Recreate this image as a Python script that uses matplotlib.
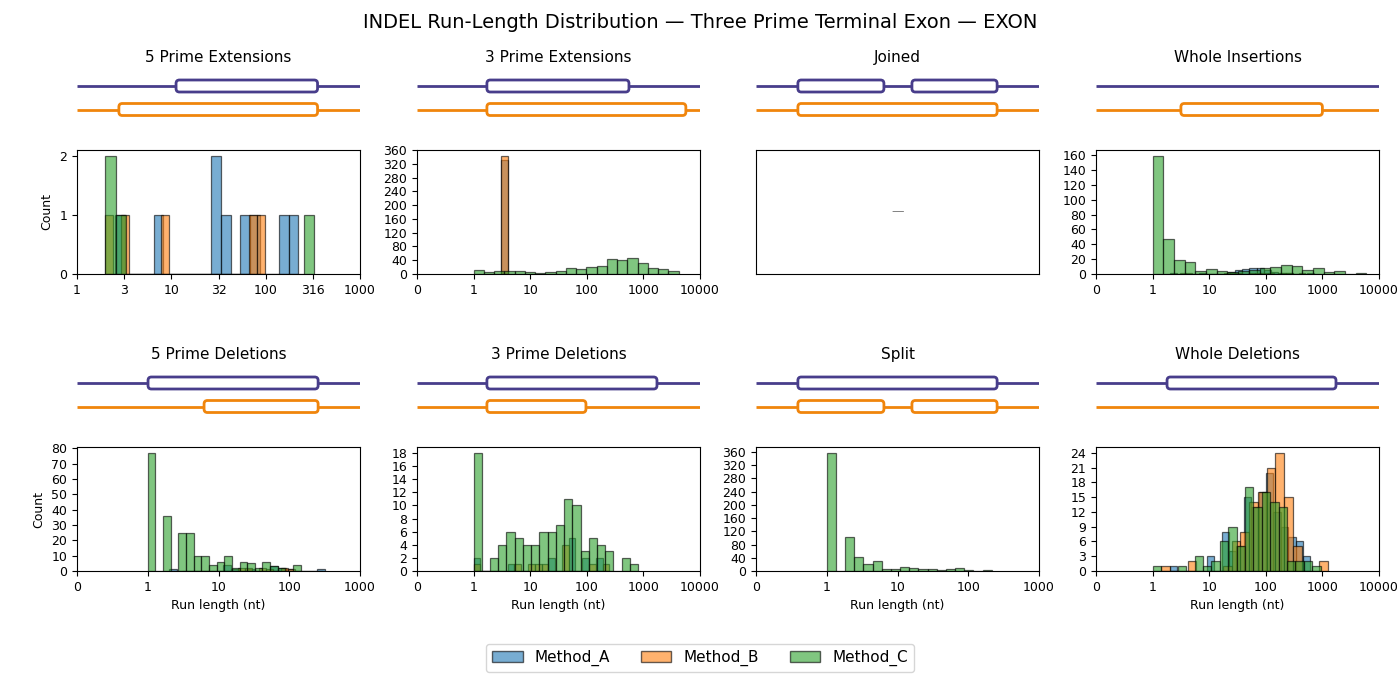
import numpy as np
import matplotlib
matplotlib.use("Agg")
import matplotlib.pyplot as plt
from matplotlib.patches import FancyBboxPatch, Patch
from matplotlib.ticker import MaxNLocator, FuncFormatter

methods = ["Method_A", "Method_B", "Method_C"]
method_colors = ["#1f77b4", "#ff7f0e", "#2ca02c"]

# binned counts per method; span = (min, max) run length in nt covered by the bins
ext5_a_span, ext5_a_counts = (2, 221), [0, 1, 0, 0, 0, 1, 0, 0, 0, 0, 0, 2, 1, 0, 1, 1, 0, 0, 1, 1]
ext5_b_span, ext5_b_counts = (2, 99), [1, 0, 1, 0, 0, 0, 0, 1, 0, 0, 0, 0, 0, 0, 0, 0, 0, 0, 1, 1]
ext5_c_span, ext5_c_counts = (2, 327), [2, 1, 0, 0, 0, 0, 0, 0, 0, 0, 0, 0, 0, 0, 0, 0, 0, 0, 0, 1]

ext3_a_span, ext3_a_counts = (3, 4), [331]
ext3_b_span, ext3_b_counts = (3, 4), [343]
ext3_c_span, ext3_c_counts = (1, 4200), [12, 6, 9, 9, 9, 6, 3, 6, 9, 17, 14, 20, 23, 43, 40, 46, 32, 17, 14, 9]

ins_a_span, ins_a_counts = (2, 725), [1, 0, 0, 0, 1, 0, 0, 0, 3, 5, 7, 8, 8, 6, 3, 2, 1, 0, 0, 1]
ins_b_span, ins_b_counts = (3, 500), [2, 1, 0, 0, 0, 0, 0, 1, 2, 1, 0, 2, 1, 2, 1, 0, 2, 1, 0, 1]
ins_c_span, ins_c_counts = (1, 6000), [159, 47, 19, 16, 4, 7, 4, 3, 4, 6, 8, 10, 12, 11, 6, 8, 3, 4, 0, 1]

del5_a_span, del5_a_counts = (2, 316), [1, 0, 0, 0, 0, 0, 0, 4, 1, 0, 1, 0, 0, 3, 2, 1, 0, 0, 0, 1]
del5_b_span, del5_b_counts = (3, 300), [0, 0, 0, 0, 0, 0, 0, 0, 2, 2, 0, 2, 1, 0, 2, 1, 0, 0, 0, 0]
del5_c_span, del5_c_counts = (1, 145), [77, 0, 36, 0, 25, 25, 10, 10, 4, 6, 10, 2, 6, 5, 2, 6, 3, 2, 0, 4]

del3_a_span, del3_a_counts = (1, 251), [2, 0, 0, 0, 0, 1, 0, 0, 0, 0, 0, 2, 0, 0, 5, 0, 2, 0, 2, 0]
del3_b_span, del3_b_counts = (1, 251), [1, 0, 0, 0, 0, 0, 1, 0, 1, 1, 1, 0, 0, 4, 0, 0, 0, 1, 0, 1]
del3_c_span, del3_c_counts = (1, 805), [18, 0, 2, 4, 6, 5, 4, 4, 6, 6, 7, 11, 10, 3, 5, 4, 3, 0, 2, 1]

split_c_span, split_c_counts = (1, 215), [357, 0, 103, 42, 21, 31, 6, 6, 12, 9, 6, 6, 3, 6, 9, 3, 0, 3]

wdel_a_span, wdel_a_counts = (2, 615), [1, 0, 0, 0, 0, 3, 0, 8, 4, 5, 15, 13, 16, 20, 12, 9, 7, 6, 3]
wdel_b_span, wdel_b_counts = (1, 1259), [0, 1, 0, 0, 2, 0, 0, 0, 1, 6, 8, 14, 16, 21, 24, 15, 5, 0, 0, 2]
wdel_c_span, wdel_c_counts = (1, 933), [1, 0, 0, 1, 0, 3, 1, 2, 6, 9, 5, 17, 13, 16, 14, 13, 2, 2, 2, 1]

panel_titles = ["5 Prime Extensions", "3 Prime Extensions", "Joined", "Whole Insertions",
                "5 Prime Deletions", "3 Prime Deletions", "Split", "Whole Deletions"]

panel_series = [
    [(ext5_a_span, ext5_a_counts), (ext5_b_span, ext5_b_counts), (ext5_c_span, ext5_c_counts)],
    [(ext3_a_span, ext3_a_counts), (ext3_b_span, ext3_b_counts), (ext3_c_span, ext3_c_counts)],
    None,
    [(ins_a_span, ins_a_counts), (ins_b_span, ins_b_counts), (ins_c_span, ins_c_counts)],
    [(del5_a_span, del5_a_counts), (del5_b_span, del5_b_counts), (del5_c_span, del5_c_counts)],
    [(del3_a_span, del3_a_counts), (del3_b_span, del3_b_counts), (del3_c_span, del3_c_counts)],
    [None, None, (split_c_span, split_c_counts)],
    [(wdel_a_span, wdel_a_counts), (wdel_b_span, wdel_b_counts), (wdel_c_span, wdel_c_counts)],
]

# x range of each histogram in log10(nt) and tick step
panel_xrange = [(0, 3, 0.5), (-1, 4, 1), None, (-1, 4, 1),
                (-1, 3, 1), (-1, 4, 1), (-1, 3, 1), (-1, 4, 1)]

# schematic: exon boxes on the reference track (top) and the transcript track (bottom)
schematic = [
    ([(0.35, 0.85)], [(0.148, 0.85)]),
    ([(0.247, 0.749)], [(0.247, 0.95)]),
    ([(0.148, 0.452), (0.551, 0.852)], [(0.148, 0.852)]),
    ([], [(0.30, 0.80)]),
    ([(0.251, 0.852)], [(0.449, 0.852)]),
    ([(0.247, 0.848)], [(0.247, 0.597)]),
    ([(0.148, 0.852)], [(0.148, 0.452), (0.551, 0.852)]),
    ([(0.251, 0.848)], []),
]
track_colors = ["#483D8B", "#F0850C"]

W, H = 1400, 680
fig = plt.figure(figsize=(W / 100, H / 100), dpi=100)

col_left = [77, 417, 756, 1096]
ax_w = 283
diag_top = [72, 369]
hist_top = [150, 447]
hist_h = 124
diag_h = 50


def px_rect(x, y, w, h):
    return [x / W, 1 - (y + h) / H, w / W, h / H]


fmt = FuncFormatter(lambda v, p: f"{10 ** v:.0f}")

for i, title in enumerate(panel_titles):
    row, col = divmod(i, 4)
    # schematic axes
    dax = fig.add_axes(px_rect(col_left[col], diag_top[row], ax_w, diag_h))
    dax.set_xlim(0, 1)
    dax.set_ylim(0, 1)
    dax.axis("off")
    dax.set_title(title, fontsize=11, pad=7)
    for track, ypos in enumerate([0.72, 0.25]):
        c = track_colors[track]
        dax.plot([0, 1], [ypos, ypos], color=c, lw=2, solid_capstyle="butt", zorder=1)
        for x0, x1 in schematic[i][track]:
            box = FancyBboxPatch((x0, ypos - 0.12), x1 - x0, 0.24,
                                 boxstyle="round,pad=0,rounding_size=0.012",
                                 mutation_aspect=ax_w / diag_h,
                                 facecolor="white", edgecolor=c, lw=2, zorder=2)
            dax.add_patch(box)

    # histogram axes
    ax = fig.add_axes(px_rect(col_left[col], hist_top[row], ax_w, hist_h))
    if panel_series[i] is None:
        ax.set_xticks([])
        ax.set_yticks([])
        ax.text(0.5, 0.5, "—", transform=ax.transAxes, ha="center", va="center",
                color="gray", fontsize=9)
        continue
    for m, series in enumerate(panel_series[i]):
        if series is None:
            continue
        span, counts = series
        edges = np.linspace(np.log10(span[0]), np.log10(span[1]), len(counts) + 1)
        ax.hist(edges[:-1], bins=edges, weights=counts, color=method_colors[m],
                alpha=0.6, edgecolor="black", linewidth=0.9)
    lo, hi, step = panel_xrange[i]
    ax.set_xlim(lo, hi)
    ax.set_xticks(np.arange(lo, hi + step / 2, step))
    ax.xaxis.set_major_formatter(fmt)
    ax.yaxis.set_major_locator(MaxNLocator(nbins=10, integer=True, steps=[1, 2, 3, 4, 5, 10]))
    ax.tick_params(labelsize=9)
    if col == 0:
        ax.set_ylabel("Count", fontsize=9)
    if row == 1:
        ax.set_xlabel("Run length (nt)", fontsize=9)

fig.suptitle("INDEL Run-Length Distribution — Three Prime Terminal Exon — EXON",
             fontsize=14, y=1 - 22 / H, va="center")

handles = [Patch(facecolor=c, alpha=0.6, edgecolor="black") for c in method_colors]
fig.legend(handles, methods, loc="lower center", ncol=3, fontsize=11,
           bbox_to_anchor=(0.5, 0.0))

fig.savefig("out.png", dpi=100)
